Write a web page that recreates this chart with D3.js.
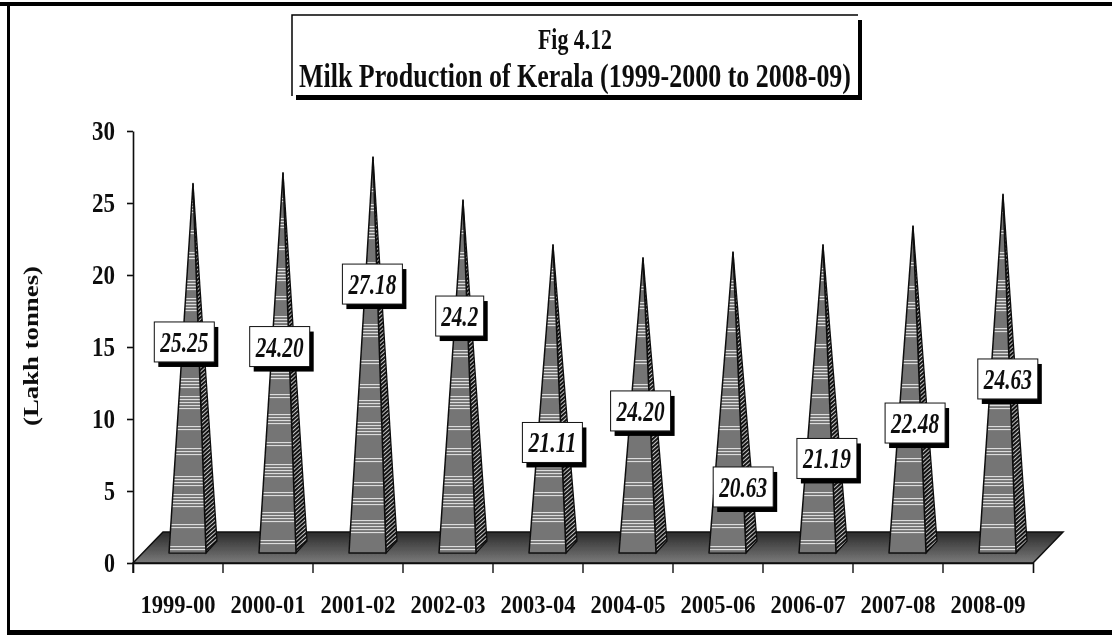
<!DOCTYPE html>
<html><head><meta charset="utf-8">
<script src="https://cdn.jsdelivr.net/npm/d3@7/dist/d3.min.js"></script>
<style>html,body{margin:0;padding:0;background:#fff}svg{display:block}text{font-family:"Liberation Serif",serif;font-weight:bold;fill:#111}</style>
</head><body><svg id="c" width="1112" height="636"></svg>
<script>
const categories=["1999-00","2000-01","2001-02","2002-03","2003-04","2004-05","2005-06","2006-07","2007-08","2008-09"];
const labelTexts=["25.25","24.20","27.18","24.2","21.11","24.20","20.63","21.19","22.48","24.63"];
// spire heights (the drawn heights differ from the printed labels)
const spireHeights=[26.35,27.1,28.2,25.2,22.1,21.2,21.6,22.1,23.4,25.6];
// where each label box sits, in axis units and in fractions of a band
const labelLevels=[15.35,15.03,19.37,17.15,8.37,10.56,5.28,7.26,9.72,12.78];
const labelShifts=[0.07,0.13,0.16,0.13,0.16,0.14,0.28,0.21,0.19,0.22];
const yTicks=[0,5,10,15,20,25,30];
const stripeSets=[[4,7,10,13,16,34,37,56,59,62,84,87,90,93],[2,5,22,25,28,31,50,53,72,75,78,81,84],[8,11,14,30,33,36,39,42,66,69,90,93]];

const svg=d3.select("#c");
const defs=svg.append("defs");
defs.append("filter").attr("id","soft").attr("x",0).attr("y",0).attr("width",1).attr("height",1)
  .append("feGaussianBlur").attr("stdDeviation",0.55);
const fg=defs.append("linearGradient").attr("id","floor").attr("x1",0).attr("y1",0).attr("x2",0).attr("y2",1);
fg.append("stop").attr("offset",0).attr("stop-color","#2a2a2a");
fg.append("stop").attr("offset",1).attr("stop-color","#7a7a7a");
stripeSets.forEach((s,i)=>{
  const p=defs.append("pattern").attr("id","st"+i).attr("patternUnits","userSpaceOnUse").attr("width",10).attr("height",98);
  p.append("rect").attr("width",10).attr("height",98).attr("fill","#757575");
  p.selectAll("rect.s").data(s).join("rect").attr("class","s").attr("y",d=>d).attr("width",10).attr("height",1.1).attr("fill","#dcdcdc");
});
const h=defs.append("pattern").attr("id","hatch").attr("patternUnits","userSpaceOnUse").attr("width",3).attr("height",3).attr("patternTransform","rotate(-42)");
h.append("rect").attr("width",3).attr("height",3).attr("fill","#c4c4c4");
h.append("rect").attr("width",3).attr("height",1.9).attr("fill","#0a0a0a");

const root=svg.append("g").attr("filter","url(#soft)");
// page frame and title box
root.append("rect").attr("x",0).attr("y",2).attr("width",1112).attr("height",4).attr("fill","#000");
root.append("rect").attr("x",7).attr("y",2).attr("width",3).attr("height",632).attr("fill","#000");
root.append("rect").attr("x",7).attr("y",630).attr("width",1105).attr("height",5).attr("fill","#000");
root.append("rect").attr("x",296).attr("y",20).attr("width",566).attr("height",80).attr("fill","#000");
root.append("rect").attr("x",292).attr("y",15).attr("width",566).attr("height",80).attr("fill","#fff");
root.append("path").attr("d","M292,96V15H858").attr("fill","none").attr("stroke","#000").attr("stroke-width",1.5);
root.append("text").attr("x",575).attr("y",49).attr("text-anchor","middle").attr("font-size",29)
  .attr("textLength",74).attr("lengthAdjust","spacingAndGlyphs").text("Fig 4.12");
root.append("text").attr("x",575).attr("y",87).attr("text-anchor","middle").attr("font-size",33)
  .attr("textLength",552).attr("lengthAdjust","spacingAndGlyphs").text("Milk Production of Kerala (1999-2000 to 2008-09)");

const x=d3.scaleBand().domain(categories).range([133,1033]).padding(0);
const y=d3.scaleLinear().domain([0,30]).range([563,131]);

// floor
const depthX=30, depthY=31;
const floorPts=[[x.range()[0],y(0)],[x.range()[1],y(0)],[x.range()[1]+depthX,y(0)-depthY],[x.range()[0]+depthX,y(0)-depthY]];
root.append("path").attr("d",d3.line()(floorPts)+"Z").attr("fill","url(#floor)").attr("stroke","#111").attr("stroke-width",1.5);

// spires
const baseLeft=36, baseRight=73, baseDepth=84, baseY=10, backY=22, apexX=60;
const sp=root.selectAll("g.spire").data(categories).join("g").attr("class","spire");
sp.append("path").attr("d",(c,i)=>{const a=x(c);const t=y(spireHeights[i]);
  return d3.line()([[a+baseRight,y(0)-baseY],[a+baseDepth,y(0)-backY],[a+apexX,t]])+"Z";})
  .attr("fill","url(#hatch)").attr("stroke","#111").attr("stroke-width",1.3);
sp.append("path").attr("d",(c,i)=>{const a=x(c);const t=y(spireHeights[i]);
  return d3.line()([[a+baseLeft,y(0)-baseY],[a+baseRight,y(0)-baseY],[a+apexX,t]])+"Z";})
  .attr("fill",(c,i)=>`url(#st${i%3})`).attr("stroke","#111").attr("stroke-width",1.5).attr("stroke-linejoin","round");

// axes
const yAxis=d3.axisLeft(y).tickValues(yTicks).tickSize(6).tickPadding(12).tickSizeOuter(0);
const yg=root.append("g").attr("transform","translate(133,0)").call(yAxis);
yg.selectAll("text").attr("font-size",27).attr("font-family",null)
  .attr("textLength",d=>d<10?11:23).attr("lengthAdjust","spacingAndGlyphs");
const xAxis=d3.axisBottom(x).tickSize(0).tickPadding(32).tickSizeOuter(10);
const xg=root.append("g").attr("transform",`translate(0,${y(0)})`).call(xAxis);
xg.selectAll("text").attr("font-size",26).attr("textLength",75).attr("lengthAdjust","spacingAndGlyphs").attr("font-family",null);
xg.selectAll(".edge").data(categories).join("line").attr("class","edge")
  .attr("x1",c=>x(c)).attr("x2",c=>x(c)).attr("y1",0).attr("y2",10).attr("stroke","#111");
root.selectAll(".domain,.tick line").attr("stroke","#111").attr("stroke-width",1.6);
root.selectAll(".edge").attr("stroke-width",1.4);

root.append("text").attr("transform","translate(38,346) rotate(-90)").attr("text-anchor","middle")
  .attr("font-size",22).attr("textLength",160).attr("lengthAdjust","spacingAndGlyphs").text("(Lakh tonnes)");

// label boxes
const lb=root.selectAll("g.lab").data(labelTexts).join("g").attr("class","lab")
  .attr("transform",(t,i)=>`translate(${x(categories[i])+x.bandwidth()*(0.5+labelShifts[i])},${y(labelLevels[i])})`);
const bw=t=>t.length>4?60:48, bh=40;
lb.append("rect").attr("x",t=>-bw(t)/2+4).attr("y",-bh/2+5).attr("width",bw).attr("height",bh).attr("fill","#000");
lb.append("rect").attr("x",t=>-bw(t)/2).attr("y",-bh/2).attr("width",bw).attr("height",bh).attr("fill","#fff").attr("stroke","#111").attr("stroke-width",1);
lb.append("text").attr("text-anchor","middle").attr("y",10).attr("font-size",29).attr("font-style","italic")
  .attr("textLength",t=>t.length>4?48:37).attr("lengthAdjust","spacingAndGlyphs").text(t=>t);
</script></body></html>
